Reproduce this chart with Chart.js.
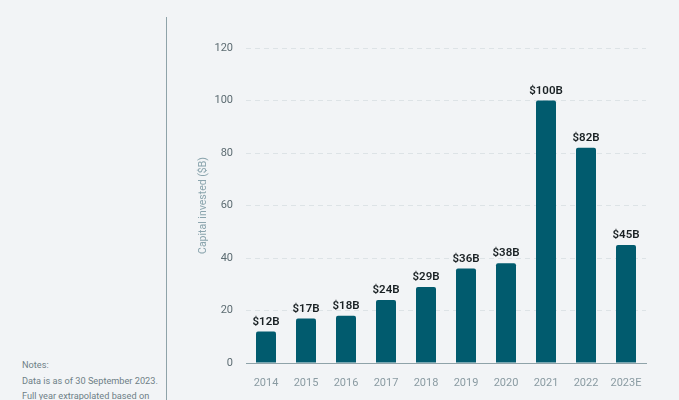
<!DOCTYPE html>
<html>
<head>
<meta charset="utf-8">
<script src="https://cdn.jsdelivr.net/npm/chart.js@4.4.0/dist/chart.umd.min.js"></script>
<style>
  html, body { margin: 0; padding: 0; background: #f2f4f6; }
  #wrap { position: relative; width: 679px; height: 400px; overflow: hidden; background: #f2f4f6; }
  #c { position: absolute; left: 0; top: 0; }
  #vline { position: absolute; left: 166px; top: 17px; width: 1px; height: 400px; background: #8fa3a9; }
  #notes { position: absolute; left: 22px; top: 357px; font-family: Roboto, "Noto Sans", sans-serif; font-size: 9.2px; line-height: 15.5px; color: #6e7f86; }
</style>
</head>
<body>
<div id="wrap">
  <div id="vline"></div>
  <div id="notes">Notes:<br>Data is as of 30 September 2023.<br>Full year extrapolated based on</div>
  <canvas id="c" width="679" height="400"></canvas>
</div>
<script>
const categories = ["2014","2015","2016","2017","2018","2019","2020","2021","2022","2023E"];
const capitalInvested = [12, 17, 18, 24, 29, 36, 38, 100, 82, 45];
const valueLabels = ["$12B","$17B","$18B","$24B","$29B","$36B","$38B","$100B","$82B","$45B"];
const yTicks = [0, 20, 40, 60, 80, 100, 120];
const FONT = 'Roboto, "Noto Sans", sans-serif';

const barLabelPlugin = {
  id: 'barLabels',
  afterDatasetsDraw(chart) {
    const ctx = chart.ctx;
    const meta = chart.getDatasetMeta(0);
    ctx.save();
    ctx.font = '600 11.5px ' + FONT;
    ctx.fillStyle = '#1a2124';
    ctx.textAlign = 'center';
    ctx.textBaseline = 'bottom';
    meta.data.forEach((bar, i) => {
      ctx.fillText(valueLabels[i], bar.x, bar.y - 4);
    });
    ctx.restore();
  }
};

new Chart(document.getElementById('c'), {
  type: 'bar',
  data: {
    labels: categories,
    datasets: [{
      data: capitalInvested,
      backgroundColor: '#015b6e',
      borderRadius: 2,
      borderSkipped: 'bottom',
      barPercentage: 0.5,
      categoryPercentage: 1.0
    }]
  },
  options: {
    responsive: false,
    animation: false,
    layout: { padding: { left: 197, right: 33, top: 48, bottom: 0 } },
    plugins: { legend: { display: false }, tooltip: { enabled: false } },
    scales: {
      x: {
        grid: { display: false, drawTicks: false },
        border: { display: true, color: '#8fa3a9', width: 1 },
        ticks: { color: '#8a9ba2', font: { family: FONT, size: 11 }, padding: 14, maxRotation: 0, minRotation: 0, autoSkip: false },
        afterFit(scale) { scale.height = 37; }
      },
      y: {
        min: 0, max: 120,
        afterBuildTicks(scale) { scale.ticks = yTicks.map(v => ({ value: v })); },
        grid: {
          drawTicks: false,
          color: ctx => ctx.tick && ctx.tick.value === 0 ? 'rgba(0,0,0,0)' : '#dde3e6',
          lineWidth: 1
        },
        border: { display: false, dash: [5, 4] },
        ticks: { color: '#5d6c72', font: { family: FONT, size: 11 }, padding: 13 },
        title: { display: true, text: 'Capital invested ($B)', color: '#8aa4ad', font: { family: FONT, size: 10.5 }, padding: 0 },
        afterFit(scale) { scale.width = 49; }
      }
    }
  },
  plugins: [barLabelPlugin]
});
</script>
</body>
</html>
